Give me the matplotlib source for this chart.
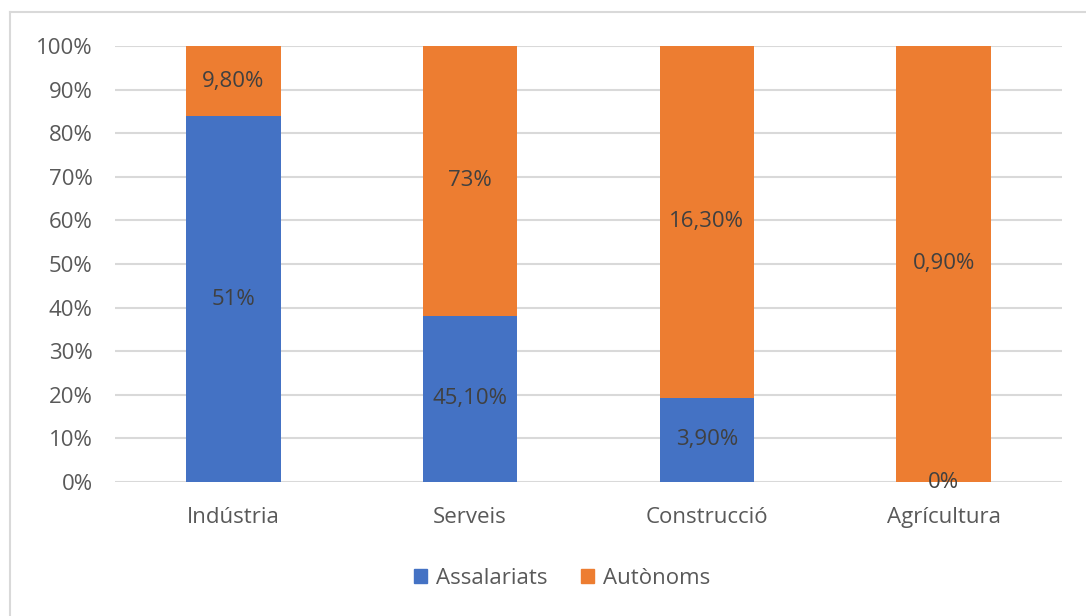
import matplotlib
matplotlib.use("Agg")
import matplotlib.pyplot as plt
import numpy as np
from matplotlib.lines import Line2D

categories = ["Indústria", "Serveis", "Construcció", "Agrícultura"]
assalariats = [51.0, 45.1, 3.9, 0.0]
autonoms = [9.8, 73.0, 16.3, 0.9]
assal_labels = ["51%", "45,10%", "3,90%", "0%"]
auto_labels = ["9,80%", "73%", "16,30%", "0,90%"]
series_names = ["Assalariats", "Autònoms"]

blue = "#4472C4"
orange = "#ED7D31"
tick_col = "#595959"
lab_col = "#404040"

plt.rcParams['font.family'] = ['Open Sans', 'DejaVu Sans']
fs = 16

fig = plt.figure(figsize=(10.86, 6.16), dpi=100)
ax = fig.add_axes([115/1086, 1-482/616, (1062-115)/1086, (482-46)/616])

a = np.array(assalariats)
b = np.array(autonoms)
tot = a + b
pa = a / tot * 100
pb = b / tot * 100
x = np.arange(len(categories))
w = 0.4
ax.bar(x, pa, w, color=blue, label=series_names[0], zorder=3)
ax.bar(x, pb, w, bottom=pa, color=orange, label=series_names[1], zorder=3)

for i in range(len(x)):
    ax.text(x[i], pa[i]/2, assal_labels[i], ha="center", va="center", fontsize=fs, color=lab_col, zorder=4)
    ax.text(x[i], pa[i] + pb[i]/2, auto_labels[i], ha="center", va="center", fontsize=fs, color=lab_col, zorder=4)

ax.set_xlim(-0.5, 3.5)
ax.set_ylim(0, 100)
ax.set_yticks(np.arange(0, 101, 10))
ax.set_yticklabels([f"{v}%" for v in range(0, 101, 10)])
ax.set_xticks(x)
ax.set_xticklabels(categories)
ax.tick_params(axis="both", length=0, labelsize=fs, colors=tick_col)
ax.tick_params(axis="y", pad=16)
ax.tick_params(axis="x", pad=18)
ax.grid(axis="y", color="#D9D9D9", linewidth=1.5, zorder=0)
for s in ax.spines.values():
    s.set_visible(False)

handles = [plt.Rectangle((0, 0), 1, 1, color=blue), plt.Rectangle((0, 0), 1, 1, color=orange)]
fig.legend(handles, series_names, loc="center", bbox_to_anchor=(562/1086, 1-578/616), ncol=2,
           frameon=False, fontsize=fs, labelcolor=tick_col, handlelength=0.6, handleheight=0.6,
           handletextpad=0.4, columnspacing=1.5)

fig.add_artist(Line2D([10/1086, 1.0], [1-12/616, 1-12/616], color="#D9D9D9", lw=1.5, transform=fig.transFigure))
fig.add_artist(Line2D([10/1086, 10/1086], [0, 1-12/616], color="#D9D9D9", lw=1.5, transform=fig.transFigure))

fig.savefig("out.png", dpi=100)
